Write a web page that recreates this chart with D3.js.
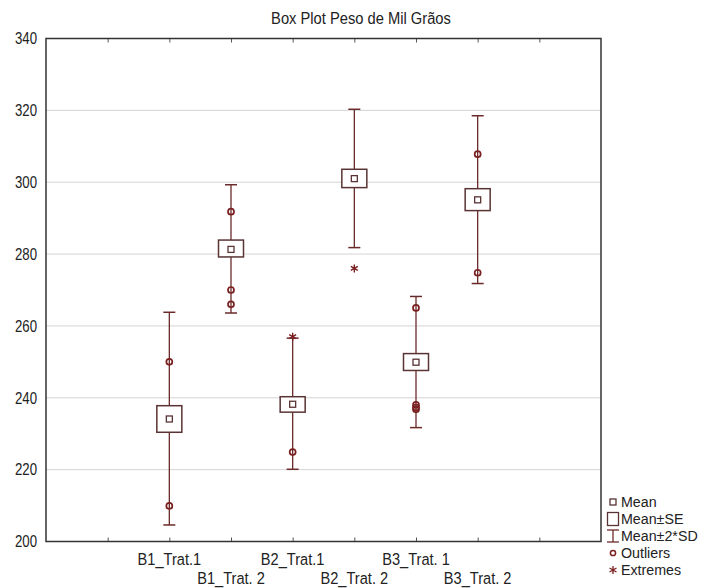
<!DOCTYPE html>
<html>
  <head>
    <script src="https://d3js.org/d3.v7.min.js"></script>
    <style>
      body { margin: 0; background: #fff; }
      text { font-family: "Liberation Sans", Arial, sans-serif; fill: #222; }
    </style>
  </head>
  <body>
    <svg id="chart" width="705" height="588"></svg>
    <script>
      // values
      const groups = ["B1_Trat.1", "B1_Trat. 2", "B2_Trat.1", "B2_Trat. 2", "B3_Trat. 1", "B3_Trat. 2"];
      const means = [234.1, 281.3, 238.2, 301.0, 249.9, 295.1];
      const seLow = [230.4, 279.2, 236.0, 298.5, 247.6, 292.1];
      const seHigh = [237.8, 283.9, 240.3, 303.6, 252.3, 298.2];
      const sdLow = [204.6, 263.6, 220.1, 281.8, 231.7, 271.8];
      const sdHigh = [263.8, 299.3, 256.6, 320.3, 268.2, 318.5];
      const outliers = [[250.0, 209.9], [291.8, 270.0, 266.0], [224.9], [], [265.0, 238.0, 237.3, 236.8], [307.8, 274.8]];
      const extremes = [[], [], [257.0], [276.0], [], []];
      const yTicks = [200, 220, 240, 260, 280, 300, 320, 340];
      const legendItems = ["Mean", "Mean±SE", "Mean±2*SD", "Outliers", "Extremes"];

      const svg = d3.select("#chart");
      const pLeft = 46, pRight = 601, pTop = 38.5, pBottom = 541.5;
      const dark = "#6b2a2a";
      const boxCol = "#5a3434";

      // the original uses a narrow face, squeeze the text horizontally
      function squeeze(sel, sx) {
        sel.each(function() {
          let t = d3.select(this);
          let x = +t.attr("x") || 0;
          t.attr("x", x / sx).attr("transform", `scale(${sx},1)`);
        });
      }

      // 10 slots, categories sit on slots 2..7
      let xScale = d3.scaleLinear().domain([0, 9]).range([pLeft, pRight]);
      let yScale = d3.scaleLinear().domain([200, 340]).range([pBottom, pTop]);
      const xPos = i => xScale(i + 2);

      // grid
      svg.append("g").selectAll("line.grid").data(yTicks.slice(1, -1))
        .join("line")
        .attr("class", "grid")
        .attr("x1", pLeft).attr("x2", pRight)
        .attr("y1", d => yScale(d)).attr("y2", d => yScale(d))
        .attr("stroke", "#d4d4d4").attr("stroke-width", 1);

      // y axis labels
      let yAxis = d3.axisLeft(yScale).tickValues(yTicks).tickSize(0).tickPadding(9);
      let yg = svg.append("g").attr("transform", `translate(${pLeft},0)`).call(yAxis);
      yg.select(".domain").remove();
      yg.selectAll("text").style("font-size", "16.5px").attr("fill", "#222")
        .attr("font-family", "Liberation Sans, Arial, sans-serif");
      squeeze(yg.selectAll("text"), 0.8);

      // x ticks (inner, top and bottom)
      let tickIdx = d3.range(1, 9);
      let xb = d3.axisBottom(xScale).tickValues(tickIdx).tickSize(-4).tickFormat("");
      let xt = d3.axisTop(xScale).tickValues(tickIdx).tickSize(-4).tickFormat("");
      let gxb = svg.append("g").attr("transform", `translate(0,${pBottom})`).call(xb);
      let gxt = svg.append("g").attr("transform", `translate(0,${pTop})`).call(xt);
      [gxb, gxt].forEach(g => {
        g.select(".domain").remove();
        g.selectAll("line").attr("stroke", "#555");
      });

      // x labels on two rows
      let xl = svg.append("g").selectAll("text.xlab").data(groups)
        .join("text")
        .attr("class", "xlab")
        .attr("x", (d, i) => xPos(i))
        .attr("y", (d, i) => i % 2 == 0 ? 565 : 584)
        .attr("text-anchor", "middle")
        .style("font-size", "17px")
        .text(d => d);
      squeeze(xl, 0.86);

      // frame
      svg.append("rect")
        .attr("x", pLeft).attr("y", pTop)
        .attr("width", pRight - pLeft).attr("height", pBottom - pTop)
        .attr("fill", "none").attr("stroke", "#333").attr("stroke-width", 1.5);

      // whiskers
      let plot = svg.append("g");
      plot.selectAll("line.whisk").data(groups)
        .join("line")
        .attr("class", "whisk")
        .attr("x1", (d, i) => xPos(i)).attr("x2", (d, i) => xPos(i))
        .attr("y1", (d, i) => yScale(sdLow[i])).attr("y2", (d, i) => yScale(sdHigh[i]))
        .attr("stroke", dark).attr("stroke-width", 1.3);
      [sdLow, sdHigh].forEach(arr => {
        plot.selectAll(null).data(groups)
          .join("line")
          .attr("x1", (d, i) => xPos(i) - 6).attr("x2", (d, i) => xPos(i) + 6)
          .attr("y1", (d, i) => yScale(arr[i])).attr("y2", (d, i) => yScale(arr[i]))
          .attr("stroke", dark).attr("stroke-width", 1.5);
      });

      // SE boxes
      plot.selectAll("rect.se").data(groups)
        .join("rect")
        .attr("class", "se")
        .attr("x", (d, i) => xPos(i) - 12.5)
        .attr("y", (d, i) => yScale(seHigh[i]))
        .attr("width", 25)
        .attr("height", (d, i) => yScale(seLow[i]) - yScale(seHigh[i]))
        .attr("fill", "#fff").attr("stroke", boxCol).attr("stroke-width", 1.5);

      // mean markers
      plot.selectAll("rect.mean").data(groups)
        .join("rect")
        .attr("class", "mean")
        .attr("x", (d, i) => xPos(i) - 3)
        .attr("y", (d, i) => yScale(means[i]) - 3)
        .attr("width", 6).attr("height", 6)
        .attr("fill", "#fff").attr("stroke", boxCol).attr("stroke-width", 1.3);

      // outliers
      let outPts = [];
      outliers.forEach((arr, i) => arr.forEach(v => outPts.push({ i: i, v: v })));
      plot.selectAll("circle.out").data(outPts)
        .join("circle")
        .attr("class", "out")
        .attr("cx", d => xPos(d.i)).attr("cy", d => yScale(d.v))
        .attr("r", 3)
        .attr("fill", "none").attr("stroke", "#7a2020").attr("stroke-width", 1.7);

      // extremes (asterisk)
      let extPts = [];
      extremes.forEach((arr, i) => arr.forEach(v => extPts.push({ i: i, v: v })));
      const star = d3.symbol().type(d3.symbolAsterisk).size(45);
      plot.selectAll("path.ext").data(extPts)
        .join("path")
        .attr("class", "ext")
        .attr("d", star)
        .attr("transform", d => `translate(${xPos(d.i)},${yScale(d.v)})`)
        .attr("fill", "none").attr("stroke", "#7a2020").attr("stroke-width", 1.4);

      // title
      let title = svg.append("text")
        .attr("x", 361).attr("y", 24)
        .attr("text-anchor", "middle")
        .style("font-size", "16px")
        .text("Box Plot Peso de Mil Grãos");
      squeeze(title, 0.92);

      // legend
      let lg = svg.append("g").attr("transform", "translate(613,0)");
      const rowY = k => 502 + k * 17;
      lg.append("rect").attr("x", -3).attr("y", rowY(0) - 3).attr("width", 6).attr("height", 6)
        .attr("fill", "#fff").attr("stroke", boxCol).attr("stroke-width", 1.3);
      lg.append("rect").attr("x", -5.5).attr("y", rowY(1) - 6.5).attr("width", 11).attr("height", 13)
        .attr("fill", "#fff").attr("stroke", boxCol).attr("stroke-width", 1.3);
      lg.append("line").attr("x1", 0).attr("x2", 0).attr("y1", rowY(2) - 6).attr("y2", rowY(2) + 6)
        .attr("stroke", dark).attr("stroke-width", 1.3);
      lg.append("line").attr("x1", -6).attr("x2", 6).attr("y1", rowY(2) - 6).attr("y2", rowY(2) - 6)
        .attr("stroke", dark).attr("stroke-width", 1.3);
      lg.append("line").attr("x1", -6).attr("x2", 6).attr("y1", rowY(2) + 6).attr("y2", rowY(2) + 6)
        .attr("stroke", dark).attr("stroke-width", 1.3);
      lg.append("circle").attr("cx", 0).attr("cy", rowY(3)).attr("r", 2.6)
        .attr("fill", "none").attr("stroke", "#7a2020").attr("stroke-width", 1.5);
      lg.append("path").attr("d", star).attr("transform", `translate(0,${rowY(4)})`)
        .attr("fill", "none").attr("stroke", "#7a2020").attr("stroke-width", 1.3);
      let lt = lg.selectAll("text.leg").data(legendItems)
        .join("text")
        .attr("class", "leg")
        .attr("x", 8)
        .attr("y", (d, k) => rowY(k) + 5.5)
        .style("font-size", "15.5px")
        .text(d => d);
      squeeze(lt, 0.92);
    </script>
  </body>
</html>
